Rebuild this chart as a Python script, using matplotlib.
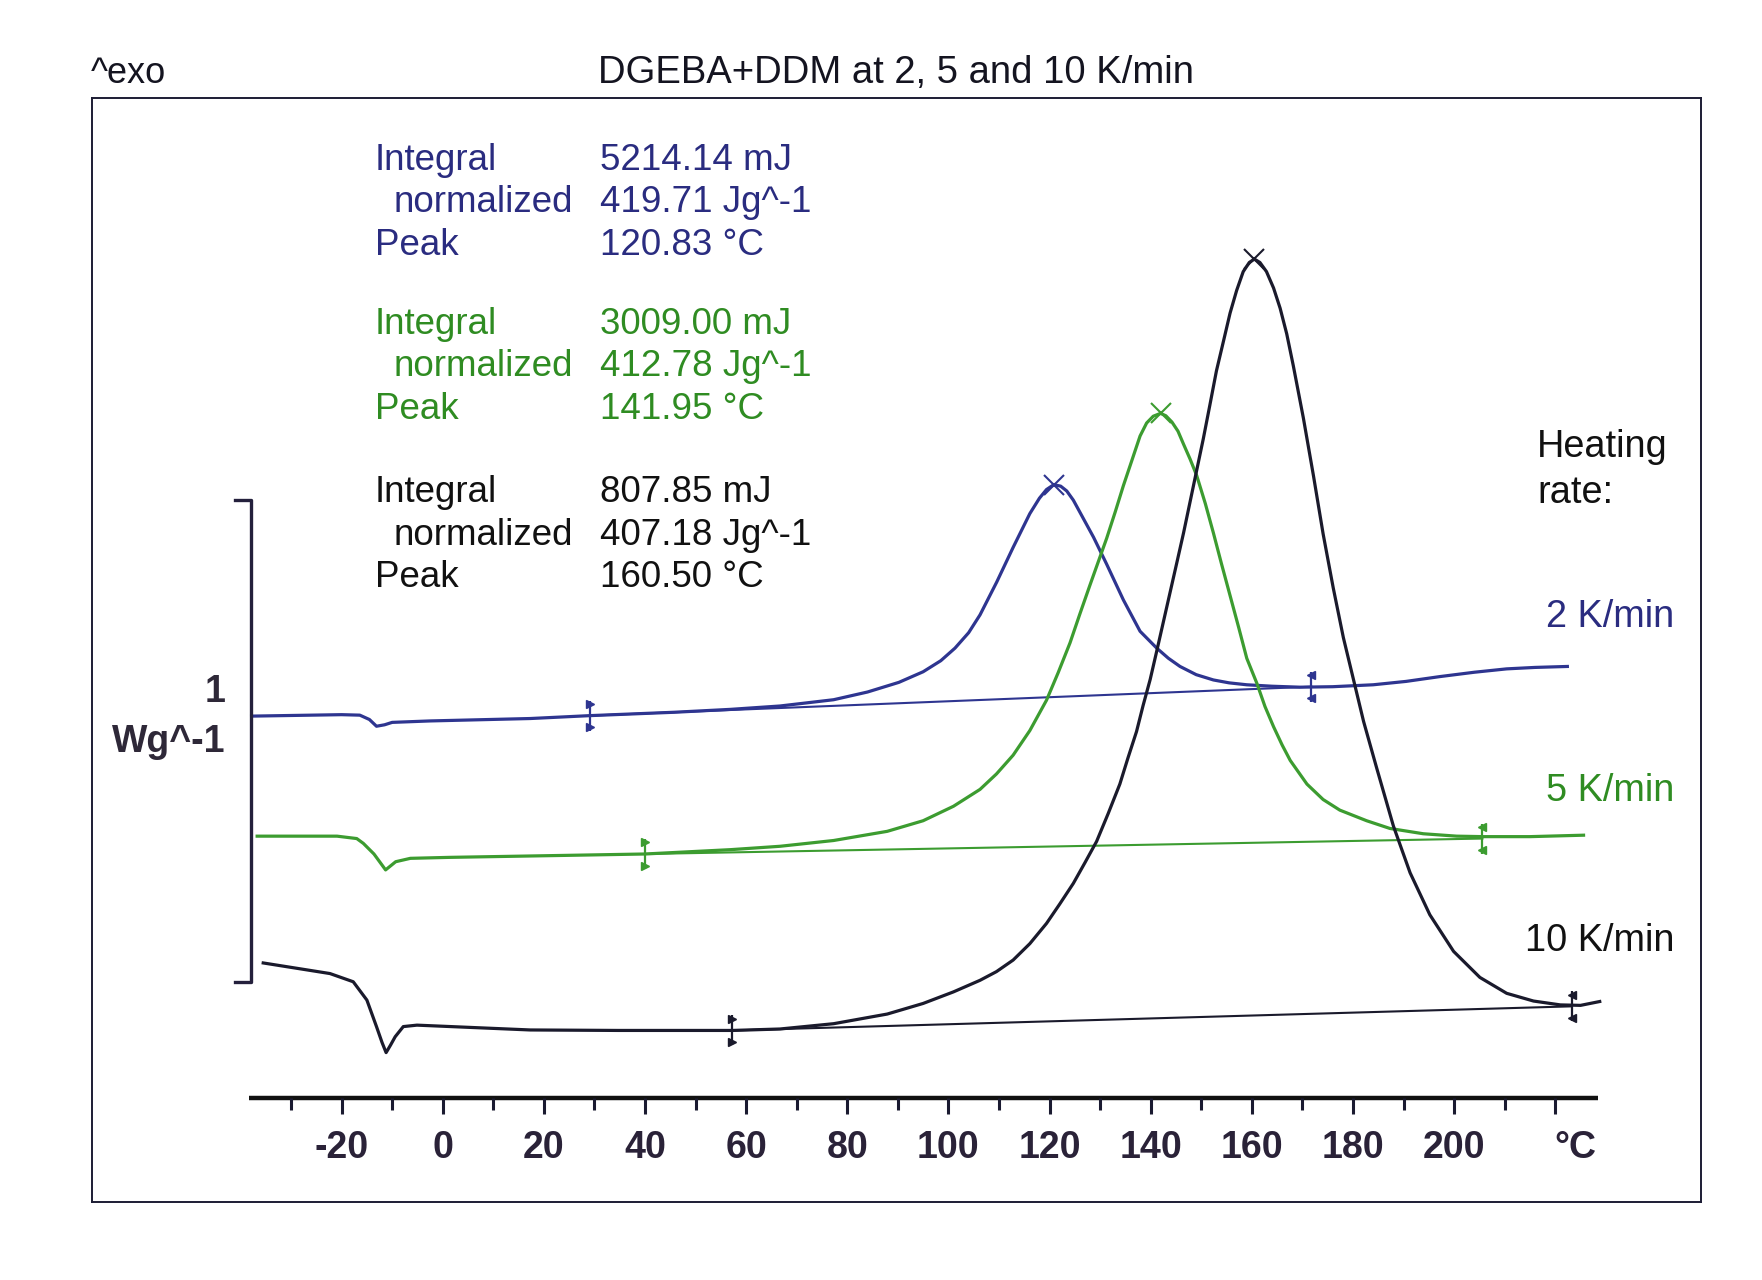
import matplotlib
matplotlib.use('Agg')
import matplotlib.pyplot as plt
import numpy as np

plt.rcParams['font.family'] = ['Liberation Sans', 'DejaVu Sans']

# Kurven (Temperatur in °C, Wärmestrom in W/g, mit Versatz wie im Original)
t_2k = [-37.8, -20.0, -16.4, -14.5, -13.1, -11.5, -10.0, -2.5, 17.3, 29.1, 45.8,
        56.9, 66.7, 77.3, 84.0, 90.2, 95.0, 98.5, 101.3, 104.0, 106.25, 109.55,
        112.8, 116.1, 118.0, 119.4, 120.83, 122.2, 123.4, 124.7, 126.0, 128.7,
        131.3, 134.6, 137.9, 141.2, 143.5, 145.8, 149.0, 152.4, 155.5, 159.0,
        164.0, 169.5, 176.0, 184.0, 190.5, 197.2, 204.0, 210.4, 216.0, 222.4]
q_2k = [0.792, 0.795, 0.794, 0.785, 0.771, 0.774, 0.779, 0.782, 0.787, 0.793, 0.800,
        0.806, 0.813, 0.826, 0.842, 0.862, 0.884, 0.907, 0.933, 0.965, 1.002, 1.070,
        1.142, 1.212, 1.244, 1.262, 1.272, 1.269, 1.259, 1.240, 1.215, 1.163,
        1.107, 1.033, 0.968, 0.933, 0.912, 0.895, 0.878, 0.867, 0.861, 0.857,
        0.854, 0.852, 0.853, 0.857, 0.864, 0.874, 0.883, 0.890, 0.893, 0.895]

t_5k = [-36.7, -20.9, -17.0, -15.7, -13.6, -11.3, -9.3, -6.4, 1.3, 23.6, 40.0, 56.9,
        66.7, 77.3, 87.9, 95.0, 101.0, 106.25, 109.5, 112.8, 116.1, 119.4, 121.7,
        124.05, 126.0, 128.0, 129.7, 131.3, 133.0, 134.6, 136.3, 137.9, 139.2,
        140.5, 141.95, 143.0, 144.2, 145.4, 146.5, 147.8, 149.1, 150.8, 152.4,
        154.0, 155.7, 157.4, 159.0, 161.0, 162.6, 164.3, 166.0, 167.6, 170.9,
        174.1, 177.4, 182.7, 187.3, 193.9, 200.5, 205.8, 215.0, 225.6]
q_5k = [0.543, 0.543, 0.538, 0.528, 0.506, 0.473, 0.490, 0.497, 0.499, 0.503, 0.506, 0.515,
        0.522, 0.534, 0.553, 0.575, 0.605, 0.640, 0.672, 0.711, 0.762, 0.825, 0.882,
        0.944, 1.004, 1.064, 1.114, 1.161, 1.216, 1.270, 1.323, 1.373, 1.400,
        1.414, 1.420, 1.415, 1.402, 1.383, 1.356, 1.325, 1.291, 1.233, 1.172,
        1.108, 1.042, 0.976, 0.912, 0.860, 0.812, 0.770, 0.732, 0.700, 0.651,
        0.619, 0.597, 0.575, 0.559, 0.548, 0.543, 0.542, 0.542, 0.545]

t_10k = [-35.5, -22.3, -17.7, -15.0, -13.1, -12.0, -11.2, -10.3, -9.4, -7.8, -5.1,
         17.3, 34.7, 57.3, 66.7, 77.3, 87.9, 95.0, 101.0, 106.25, 109.5, 112.8,
         116.1, 119.4, 122.0, 124.7, 127.0, 129.3, 131.6, 133.9, 135.5, 137.2,
         138.5, 139.9, 141.2, 142.5, 143.8, 145.1, 146.5, 147.8, 149.1, 150.4,
         151.7, 153.0, 154.4, 155.7, 157.0, 158.3, 159.5, 160.5, 161.6, 162.9,
         164.3, 165.6, 166.9, 168.2, 170.2, 172.2, 174.1, 176.1, 178.1, 180.1,
         182.1, 184.7, 188.0, 191.3, 195.2, 199.9, 205.1, 210.4, 215.7, 221.0,
         225.0, 228.8]
q_10k = [0.280, 0.258, 0.241, 0.203, 0.148, 0.115, 0.094, 0.110, 0.127, 0.148, 0.151,
         0.141, 0.140, 0.140, 0.143, 0.154, 0.174, 0.196, 0.220, 0.244, 0.262, 0.286,
         0.320, 0.362, 0.402, 0.445, 0.488, 0.532, 0.590, 0.651, 0.705, 0.760,
         0.814, 0.868, 0.927, 0.987, 1.047, 1.107, 1.172, 1.237, 1.302, 1.367,
         1.437, 1.508, 1.570, 1.628, 1.675, 1.714, 1.733, 1.740, 1.733, 1.714,
         1.680, 1.638, 1.585, 1.519, 1.410, 1.290, 1.170, 1.058, 0.955, 0.868,
         0.781, 0.684, 0.564, 0.467, 0.380, 0.304, 0.250, 0.217, 0.201, 0.193,
         0.192, 0.200]

# Integrationsgrenzen (Basislinie)
base_2k = ([29.1, 171.8], [0.793, 0.853])
base_5k = ([40.0, 205.6], [0.506, 0.538])
base_10k = ([57.3, 223.3], [0.140, 0.190])

peaks = [120.83, 141.95, 160.50]
peak_q = [1.272, 1.420, 1.740]

results = [
    ['5214.14 mJ', '419.71 Jg^-1', '120.83 °C'],
    ['3009.00 mJ', '412.78 Jg^-1', '141.95 °C'],
    ['807.85 mJ', '407.18 Jg^-1', '160.50 °C'],
]
rates = ['2 K/min', '5 K/min', '10 K/min']

x_ticks = np.arange(-30, 230, 10)
x_labels = [-20, 0, 20, 40, 60, 80, 100, 120, 140, 160, 180, 200]

c_line = ['#2e3590', '#3c9c30', '#1a1a2c']
c_text = ['#2a2c80', '#2f8c22', '#111111']

W, H = 1568, 1139  # Bezugsraster für Textpositionen


def fp(x, y):
    return x / W, 1 - y / H


fig = plt.figure(figsize=(17.62, 12.8), dpi=100)
ax = fig.add_axes([82 / W, 1 - 1070 / H, (1514 - 82) / W, (1070 - 87) / H])
ax.set_xlim(-69.33, 248.89)
ax.set_ylim(-0.2168, 2.0746)
ax.set_xticks([])
ax.set_yticks([])
for s in ax.spines.values():
    s.set_linewidth(1.4)
    s.set_color('#1c1c34')

curves = [(t_2k, q_2k), (t_5k, q_5k), (t_10k, q_10k)]
bases = [base_2k, base_5k, base_10k]
for i in range(3):
    t, q = curves[i]
    ax.plot(t, q, color=c_line[i], lw=2.3, solid_joinstyle='round')
    bt, bq = bases[i]
    ax.plot(bt, bq, color=c_line[i], lw=1.5)
    # Markierungen an den Integrationsgrenzen
    for j, m in enumerate(['>', '<']):
        ax.plot(bt[j], bq[j], marker='|', ms=22, mew=1.6, color=c_line[i])
        ax.plot([bt[j], bt[j]], [bq[j] + 0.024, bq[j] - 0.024], ls='none',
                marker=m, ms=6, color=c_line[i])
    ax.plot(peaks[i], peak_q[i], marker='x', ms=14, mew=1.5, color=c_line[i])

# Temperaturachse
ax.plot([-38.4, 228.4], [0, 0], color='#111111', lw=3.2, solid_capstyle='butt')
for t in x_ticks:
    L = 0.033 if t % 20 == 0 else 0.026
    ax.plot([t, t], [0, -L], color='#1a1a30', lw=2.2, solid_capstyle='butt')
for t in x_labels:
    ax.text(t, -0.124, str(t), ha='center', va='baseline', fontsize=27,
            fontweight='bold', color='#2a2238')
ax.text(224, -0.124, '°C', ha='center', va='baseline', fontsize=27,
        fontweight='bold', color='#2a2238')

# Skalenbalken 1 W/g
ax.plot([-41.1, -37.9, -37.9, -41.1], [1.24, 1.24, 0.24, 0.24],
        color='#24203c', lw=2.4)
fig.text(*fp(201, 625), '1', ha='right', va='baseline', fontsize=27,
         fontweight='bold', color='#2e2838')
fig.text(*fp(201, 669), 'Wg^-1', ha='right', va='baseline', fontsize=27,
         fontweight='bold', color='#2e2838')

# Titel
fig.text(*fp(797, 73.6), 'DGEBA+DDM at 2, 5 and 10 K/min', ha='center',
         va='baseline', fontsize=27.5, color='#141420')
fig.text(*fp(81, 73.6), '^exo', ha='left', va='baseline', fontsize=26,
         color='#141420')

# Auswertungen
tops = [151.3, 297.0, 447.0]
for i in range(3):
    y0 = tops[i]
    for k, lab in enumerate(['Integral', 'normalized', 'Peak']):
        xl = 350 if lab == 'normalized' else 333.5
        fig.text(*fp(xl, y0 + 37.7 * k), lab, ha='left', va='baseline',
                 fontsize=26.5, color=c_text[i])
        fig.text(*fp(534, y0 + 37.7 * k), results[i][k], ha='left',
                 va='baseline', fontsize=26.5, color=c_text[i])

fig.text(*fp(1368, 407), 'Heating', ha='left', va='baseline', fontsize=27.3,
         color='#111111')
fig.text(*fp(1368, 448), 'rate:', ha='left', va='baseline', fontsize=27.3,
         color='#111111')
for i, y in enumerate([557.5, 712.4, 845.9]):
    fig.text(*fp(1490, y), rates[i], ha='right', va='baseline', fontsize=27.3,
             color=c_text[i])

fig.savefig('out.png', dpi=100, facecolor='white')
